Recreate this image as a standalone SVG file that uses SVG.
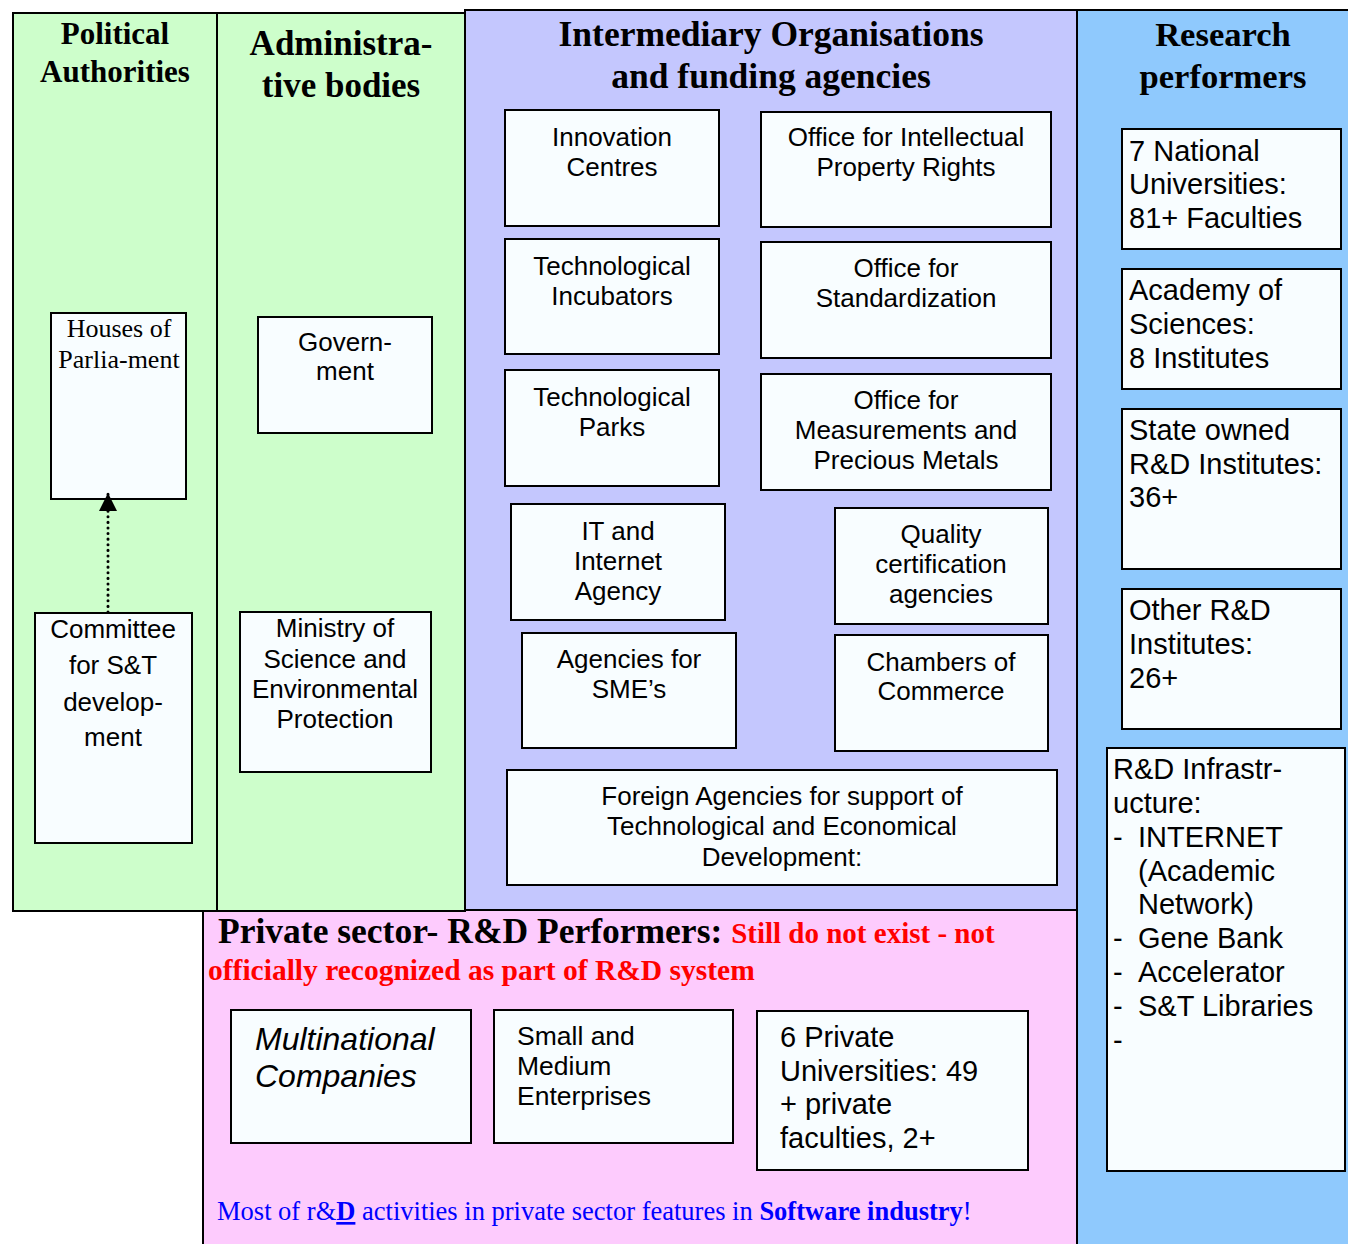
<svg xmlns="http://www.w3.org/2000/svg" width="1348" height="1244" viewBox="0 0 1348 1244">
  <defs>
    <style>
      .panel { stroke: #000; stroke-width: 2; }
      .box { fill: #F8FDFF; stroke: #000; stroke-width: 2; }
      .title { font-family: "Liberation Serif", "Times New Roman", serif; font-weight: bold; fill: #000; text-anchor: middle; }
      .lbl { font-family: "Liberation Sans", Arial, sans-serif; font-size: 26px; fill: #000; text-anchor: middle; }
      .lft { font-family: "Liberation Sans", Arial, sans-serif; font-size: 29px; fill: #000; }
      .serif { font-family: "Liberation Serif", "Times New Roman", serif; font-size: 26px; fill: #000; text-anchor: middle; }
    </style>
    <marker id="arrowhead" viewBox="0 0 10 10" refX="10" refY="5" markerWidth="18" markerHeight="19" markerUnits="userSpaceOnUse" orient="auto">
      <path d="M0,0 L10,5 L0,10 Z" fill="#000"/>
    </marker>
  </defs>

  <!-- Background panels (sectors) -->
  <g id="panels">
    <rect class="panel" x="203" y="910" width="874" height="340" fill="#FDCBFD"/>
    <rect class="panel" x="1077" y="10" width="280" height="1240" fill="#8FC9FD"/>
    <rect class="panel" x="465" y="10" width="612" height="900" fill="#C4C7FE"/>
    <rect class="panel" x="13" y="13" width="204" height="898" fill="#CDFECB"/>
    <rect class="panel" x="217" y="13" width="248" height="898" fill="#CDFECB"/>
  </g>

  <!-- Panel headings -->
  <g id="headings">
    <text class="title" font-size="31" x="115" y="44">Political</text>
    <text class="title" font-size="31" x="115" y="82">Authorities</text>
    <text class="title" font-size="35" x="341" y="55">Administra-</text>
    <text class="title" font-size="35" x="341" y="97">tive bodies</text>
    <text class="title" font-size="35.5" x="771" y="46">Intermediary Organisations</text>
    <text class="title" font-size="35.5" x="771" y="88">and funding agencies</text>
    <text class="title" font-size="34.6" x="1223" y="46">Research</text>
    <text class="title" font-size="34.6" x="1223" y="88">performers</text>
    <text font-family="Liberation Serif, Times New Roman, serif" font-weight="bold" font-size="35.5" x="218" y="943" fill="#000">Private sector- R&amp;D Performers: <tspan fill="#FF0000" font-size="29">Still do not exist - not</tspan></text>
    <text font-family="Liberation Serif, Times New Roman, serif" font-weight="bold" font-size="29.5" x="208" y="980" fill="#FF0000">officially recognized as part of R&amp;D system</text>
    <text font-family="Liberation Serif, Times New Roman, serif" font-size="26.5" x="217" y="1220" fill="#0000FF">Most of r&amp;<tspan font-weight="bold" text-decoration="underline">D</tspan> activities in private sector features in <tspan font-weight="bold">Software industry</tspan>!</text>
  </g>

  <!-- Political authorities -->
  <g id="houses-of-parliament">
    <rect class="box" x="51" y="313" width="135" height="186"/>
    <text class="serif" x="119" y="337">Houses of</text>
    <text class="serif" x="119" y="368">Parlia-ment</text>
  </g>
  <g id="committee-st">
    <rect class="box" x="35" y="613" width="157" height="230"/>
    <text class="lbl" x="113" y="638">Committee</text>
    <text class="lbl" x="113" y="674">for S&amp;T</text>
    <text class="lbl" x="113" y="711">develop-</text>
    <text class="lbl" x="113" y="746">ment</text>
  </g>

  <!-- Administrative bodies -->
  <g id="government">
    <rect class="box" x="258" y="317" width="174" height="116"/>
    <text class="lbl" x="345" y="351">Govern-</text>
    <text class="lbl" x="345" y="380">ment</text>
  </g>
  <g id="ministry">
    <rect class="box" x="240" y="612" width="191" height="160"/>
    <text class="lbl" x="335" y="637">Ministry of</text>
    <text class="lbl" x="335" y="668">Science and</text>
    <text class="lbl" x="335" y="698">Environmental</text>
    <text class="lbl" x="335" y="728">Protection</text>
  </g>

  <!-- Intermediary organisations -->
  <g id="innovation-centres">
    <rect class="box" x="505" y="110" width="214" height="116"/>
    <text class="lbl" x="612" y="146">Innovation</text>
    <text class="lbl" x="612" y="176">Centres</text>
  </g>
  <g id="office-ipr">
    <rect class="box" x="761" y="112" width="290" height="115"/>
    <text class="lbl" x="906" y="146">Office for Intellectual</text>
    <text class="lbl" x="906" y="176">Property Rights</text>
  </g>
  <g id="tech-incubators">
    <rect class="box" x="505" y="239" width="214" height="115"/>
    <text class="lbl" x="612" y="275">Technological</text>
    <text class="lbl" x="612" y="305">Incubators</text>
  </g>
  <g id="office-standardization">
    <rect class="box" x="761" y="242" width="290" height="116"/>
    <text class="lbl" x="906" y="277">Office for</text>
    <text class="lbl" x="906" y="307">Standardization</text>
  </g>
  <g id="tech-parks">
    <rect class="box" x="505" y="370" width="214" height="116"/>
    <text class="lbl" x="612" y="406">Technological</text>
    <text class="lbl" x="612" y="436">Parks</text>
  </g>
  <g id="office-measurements">
    <rect class="box" x="761" y="374" width="290" height="116"/>
    <text class="lbl" x="906" y="409">Office for</text>
    <text class="lbl" x="906" y="439">Measurements and</text>
    <text class="lbl" x="906" y="469">Precious Metals</text>
  </g>
  <g id="it-agency">
    <rect class="box" x="511" y="504" width="214" height="116"/>
    <text class="lbl" x="618" y="540">IT and</text>
    <text class="lbl" x="618" y="570">Internet</text>
    <text class="lbl" x="618" y="600">Agency</text>
  </g>
  <g id="quality-certification">
    <rect class="box" x="835" y="508" width="213" height="116"/>
    <text class="lbl" x="941" y="543">Quality</text>
    <text class="lbl" x="941" y="573">certification</text>
    <text class="lbl" x="941" y="603">agencies</text>
  </g>
  <g id="sme-agencies">
    <rect class="box" x="522" y="633" width="214" height="115"/>
    <text class="lbl" x="629" y="668">Agencies for</text>
    <text class="lbl" x="629" y="698">SME’s</text>
  </g>
  <g id="chambers-of-commerce">
    <rect class="box" x="835" y="635" width="213" height="116"/>
    <text class="lbl" x="941" y="671">Chambers of</text>
    <text class="lbl" x="941" y="700">Commerce</text>
  </g>
  <g id="foreign-agencies">
    <rect class="box" x="507" y="770" width="550" height="115"/>
    <text class="lbl" x="782" y="805">Foreign Agencies for support of</text>
    <text class="lbl" x="782" y="835">Technological and Economical</text>
    <text class="lbl" x="782" y="866">Development:</text>
  </g>

  <!-- Research performers -->
  <g id="national-universities">
    <rect class="box" x="1122" y="129" width="219" height="120"/>
    <text class="lft" x="1129" y="161">7 National</text>
    <text class="lft" x="1129" y="194">Universities:</text>
    <text class="lft" x="1129" y="228">81+ Faculties</text>
  </g>
  <g id="academy-of-sciences">
    <rect class="box" x="1122" y="269" width="219" height="120"/>
    <text class="lft" x="1129" y="300">Academy of</text>
    <text class="lft" x="1129" y="334">Sciences:</text>
    <text class="lft" x="1129" y="368">8 Institutes</text>
  </g>
  <g id="state-institutes">
    <rect class="box" x="1122" y="409" width="219" height="160"/>
    <text class="lft" x="1129" y="440">State owned</text>
    <text class="lft" x="1129" y="474">R&amp;D Institutes:</text>
    <text class="lft" x="1129" y="507">36+</text>
  </g>
  <g id="other-institutes">
    <rect class="box" x="1122" y="589" width="219" height="140"/>
    <text class="lft" x="1129" y="620">Other R&amp;D</text>
    <text class="lft" x="1129" y="654">Institutes:</text>
    <text class="lft" x="1129" y="688">26+</text>
  </g>
  <g id="rd-infrastructure">
    <rect class="box" x="1107" y="748" width="238" height="423" fill="#FFFFFF"/>
    <text class="lft" x="1113" y="779">R&amp;D Infrastr-</text>
    <text class="lft" x="1113" y="813">ucture:</text>
    <text class="lft" x="1113" y="847">-</text><text class="lft" x="1138" y="847">INTERNET</text>
    <text class="lft" x="1138" y="881">(Academic</text>
    <text class="lft" x="1138" y="914">Network)</text>
    <text class="lft" x="1113" y="948">-</text><text class="lft" x="1138" y="948">Gene Bank</text>
    <text class="lft" x="1113" y="982">-</text><text class="lft" x="1138" y="982">Accelerator</text>
    <text class="lft" x="1113" y="1016">-</text><text class="lft" x="1138" y="1016">S&amp;T Libraries</text>
    <text class="lft" x="1113" y="1050">-</text>
  </g>

  <!-- Private sector -->
  <g id="multinational-companies">
    <rect class="box" x="231" y="1010" width="240" height="133" fill="#FFFFFF"/>
    <text class="lft" style="font-size:32px;font-style:italic" x="255" y="1050">Multinational</text>
    <text class="lft" style="font-size:32px;font-style:italic" x="255" y="1087">Companies</text>
  </g>
  <g id="sme">
    <rect class="box" x="494" y="1010" width="239" height="133" fill="#FFFFFF"/>
    <text class="lft" style="font-size:26.5px" x="517" y="1045">Small and</text>
    <text class="lft" style="font-size:26.5px" x="517" y="1075">Medium</text>
    <text class="lft" style="font-size:26.5px" x="517" y="1105">Enterprises</text>
  </g>
  <g id="private-universities">
    <rect class="box" x="757" y="1011" width="271" height="159" fill="#FFFFFF"/>
    <text class="lft" x="780" y="1047">6 Private</text>
    <text class="lft" x="780" y="1081">Universities: 49</text>
    <text class="lft" x="780" y="1114">+ private</text>
    <text class="lft" x="780" y="1148">faculties, 2+</text>
  </g>

  <!-- Connectors -->
  <g id="connectors">
    <line x1="108" y1="612" x2="108" y2="493" stroke="#000" stroke-width="3" stroke-dasharray="0.1 5.5" stroke-linecap="round" marker-end="url(#arrowhead)"/>
  </g>
</svg>
